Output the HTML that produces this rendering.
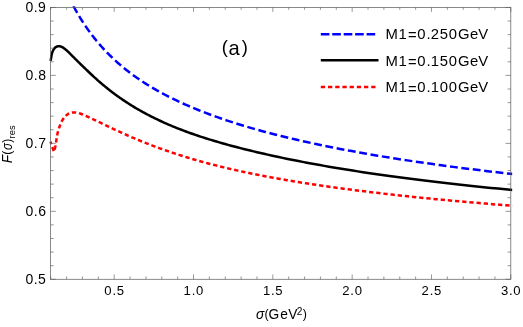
<!DOCTYPE html>
<html><head><meta charset="utf-8"><title>plot</title>
<style>html,body{margin:0;padding:0;background:#fff}svg{display:block;will-change:transform}text{white-space:pre;font-family:"Liberation Sans",sans-serif}</style></head>
<body>
<svg width="523" height="327" viewBox="0 0 523 327" >
<rect width="523" height="327" fill="#fff"/>
<defs><clipPath id="c"><rect x="49.03" y="6.24" width="463.18" height="273.03"/></clipPath></defs>
<g clip-path="url(#c)" fill="none" stroke-linejoin="round">
<path d="M72.50 4.27 L73.05 5.32 L73.61 6.38 L74.18 7.44 L74.76 8.51 L75.35 9.58 L75.96 10.65 L76.57 11.73 L77.19 12.82 L77.82 13.91 L78.46 15.00 L79.11 16.09 L79.78 17.19 L80.45 18.30 L81.14 19.40 L81.84 20.51 L82.55 21.63 L83.27 22.74 L84.01 23.86 L84.75 24.98 L85.51 26.11 L86.29 27.24 L87.07 28.37 L87.87 29.50 L88.69 30.64 L89.51 31.78 L90.35 32.92 L91.21 34.06 L92.08 35.20 L92.96 36.35 L93.86 37.50 L94.78 38.65 L95.71 39.80 L96.65 40.95 L97.61 42.10 L98.59 43.26 L99.59 44.42 L100.60 45.57 L101.63 46.73 L102.68 47.89 L103.74 49.05 L104.82 50.21 L105.92 51.37 L107.04 52.53 L108.18 53.69 L109.34 54.85 L110.52 56.01 L111.71 57.17 L112.93 58.33 L114.17 59.50 L115.43 60.65 L116.71 61.81 L118.01 62.97 L119.34 64.13 L120.69 65.29 L122.06 66.44 L123.45 67.60 L124.87 68.75 L126.31 69.91 L127.77 71.06 L129.26 72.21 L130.78 73.35 L132.32 74.50 L133.89 75.64 L135.48 76.79 L137.11 77.93 L138.75 79.06 L140.43 80.20 L142.14 81.33 L143.87 82.46 L145.64 83.59 L147.43 84.72 L149.25 85.84 L151.11 86.96 L153.00 88.08 L154.91 89.20 L156.87 90.31 L158.85 91.42 L160.87 92.53 L162.92 93.64 L165.01 94.74 L167.13 95.85 L169.29 96.95 L171.49 98.04 L173.72 99.14 L175.99 100.23 L178.30 101.32 L180.65 102.41 L183.04 103.50 L185.47 104.58 L187.94 105.67 L190.45 106.75 L193.00 107.82 L195.60 108.90 L198.24 109.97 L200.93 111.04 L203.66 112.11 L206.44 113.18 L209.27 114.24 L212.14 115.30 L215.07 116.36 L218.04 117.42 L221.06 118.47 L224.14 119.52 L227.27 120.57 L230.45 121.62 L233.68 122.66 L236.97 123.70 L240.31 124.74 L243.72 125.78 L247.18 126.82 L250.69 127.85 L254.27 128.88 L257.91 129.90 L261.61 130.93 L265.37 131.95 L269.20 132.97 L273.09 133.99 L277.05 135.00 L281.08 136.01 L285.17 137.02 L289.34 138.03 L293.57 139.03 L297.88 140.03 L302.25 141.03 L306.71 142.02 L311.24 143.02 L315.84 144.01 L320.53 144.99 L325.29 145.98 L330.14 146.96 L335.06 147.94 L340.07 148.91 L345.17 149.88 L350.35 150.85 L355.62 151.82 L360.98 152.78 L366.43 153.74 L371.98 154.70 L377.62 155.66 L383.35 156.61 L389.18 157.56 L395.11 158.50 L401.14 159.44 L407.27 160.38 L413.51 161.32 L419.85 162.25 L426.30 163.18 L432.86 164.11 L439.53 165.03 L446.32 165.95 L453.22 166.87 L460.24 167.78 L467.37 168.69 L474.63 169.60 L482.01 170.50 L489.52 171.40 L497.15 172.30 L504.91 173.19 L512.81 174.08" stroke="#0000ff" stroke-width="2.5" stroke-dasharray="7.85 3.63" stroke-dashoffset="-2"/>
<path d="M50.60 60.90 L50.77 59.88 L50.94 58.83 L51.12 57.76 L51.30 56.72 L51.48 55.72 L51.66 54.81 L51.85 54.00 L52.04 53.28 L52.23 52.63 L52.43 52.05 L52.62 51.52 L52.83 51.04 L53.03 50.59 L53.24 50.17 L53.45 49.78 L53.67 49.41 L53.89 49.08 L54.11 48.77 L54.34 48.48 L54.57 48.21 L54.80 47.96 L55.04 47.74 L55.28 47.53 L55.52 47.34 L55.77 47.17 L56.02 47.01 L56.28 46.86 L56.54 46.73 L56.81 46.61 L57.07 46.51 L57.35 46.42 L57.63 46.35 L57.91 46.28 L58.19 46.24 L58.49 46.21 L58.78 46.20 L59.08 46.20 L59.39 46.22 L59.70 46.26 L60.01 46.32 L60.34 46.39 L60.66 46.48 L60.99 46.60 L61.33 46.73 L61.67 46.88 L62.02 47.05 L62.37 47.23 L62.73 47.44 L63.09 47.66 L63.46 47.91 L63.84 48.16 L64.22 48.44 L64.61 48.73 L65.00 49.03 L65.40 49.36 L65.81 49.69 L66.22 50.04 L66.64 50.41 L67.07 50.78 L67.50 51.18 L67.94 51.58 L68.39 52.01 L68.85 52.44 L69.31 52.89 L69.78 53.35 L70.25 53.82 L70.74 54.31 L71.23 54.80 L71.73 55.31 L72.24 55.82 L72.76 56.35 L73.28 56.88 L73.81 57.42 L74.36 57.97 L74.91 58.52 L75.46 59.08 L76.03 59.65 L76.61 60.23 L77.20 60.81 L77.79 61.41 L78.40 62.01 L79.01 62.61 L79.64 63.23 L80.27 63.85 L80.92 64.48 L81.57 65.12 L82.24 65.76 L82.92 66.42 L83.60 67.08 L84.30 67.75 L85.01 68.43 L85.73 69.12 L86.46 69.82 L87.21 70.53 L87.96 71.25 L88.73 71.98 L89.51 72.72 L90.31 73.47 L91.11 74.24 L91.93 75.00 L92.76 75.78 L93.61 76.56 L94.47 77.35 L95.34 78.15 L96.22 78.95 L97.13 79.75 L98.04 80.56 L98.97 81.38 L99.91 82.20 L100.87 83.03 L101.85 83.86 L102.84 84.70 L103.85 85.54 L104.87 86.38 L105.91 87.23 L106.96 88.09 L108.04 88.94 L109.13 89.80 L110.23 90.67 L111.36 91.54 L112.50 92.41 L113.66 93.28 L114.84 94.16 L116.04 95.04 L117.26 95.92 L118.50 96.81 L119.75 97.70 L121.03 98.59 L122.33 99.48 L123.65 100.37 L124.99 101.27 L126.35 102.16 L127.73 103.06 L129.14 103.96 L130.57 104.86 L132.02 105.76 L133.49 106.66 L134.99 107.56 L136.51 108.46 L138.06 109.36 L139.63 110.26 L141.22 111.16 L142.84 112.06 L144.49 112.96 L146.16 113.86 L147.86 114.76 L149.59 115.66 L151.35 116.55 L153.13 117.45 L154.94 118.34 L156.78 119.23 L158.65 120.13 L160.56 121.01 L162.49 121.90 L164.45 122.79 L166.44 123.67 L168.47 124.55 L170.52 125.43 L172.62 126.30 L174.74 127.18 L176.90 128.05 L179.09 128.91 L181.32 129.78 L183.58 130.64 L185.88 131.50 L188.22 132.35 L190.59 133.20 L193.00 134.05 L195.45 134.89 L197.94 135.74 L200.47 136.58 L203.05 137.41 L205.66 138.25 L208.31 139.08 L211.01 139.91 L213.75 140.74 L216.53 141.57 L219.36 142.39 L222.23 143.22 L225.15 144.04 L228.11 144.86 L231.13 145.68 L234.19 146.50 L237.30 147.31 L240.46 148.13 L243.67 148.94 L246.93 149.76 L250.25 150.57 L253.61 151.38 L257.03 152.20 L260.51 153.01 L264.04 153.82 L267.63 154.63 L271.28 155.44 L274.98 156.25 L278.75 157.05 L282.57 157.86 L286.46 158.67 L290.40 159.47 L294.41 160.27 L298.49 161.07 L302.63 161.88 L306.84 162.67 L311.11 163.47 L315.45 164.27 L319.86 165.06 L324.35 165.86 L328.90 166.65 L333.53 167.44 L338.23 168.23 L343.01 169.02 L347.86 169.80 L352.79 170.58 L357.80 171.37 L362.89 172.14 L368.06 172.92 L373.32 173.69 L378.66 174.47 L384.08 175.24 L389.59 176.00 L395.19 176.77 L400.88 177.53 L406.66 178.29 L412.54 179.04 L418.50 179.80 L424.57 180.55 L430.73 181.29 L436.98 182.04 L443.34 182.78 L449.80 183.52 L456.37 184.26 L463.04 184.99 L469.81 185.72 L476.70 186.44 L483.69 187.17 L490.80 187.89 L498.02 188.60 L505.36 189.31 L512.81 190.02" stroke="#000" stroke-width="2.5"/>
<path d="M50.5 141.7 L53.90 151.70 L54.11 151.43 L54.32 150.96 L54.53 150.29 L54.75 149.44 L54.96 148.45 L55.19 147.31 L55.41 146.07 L55.64 144.73 L55.87 143.31 L56.11 141.83 L56.35 140.32 L56.59 138.79 L56.84 137.27 L57.09 135.79 L57.34 134.39 L57.60 133.09 L57.86 131.93 L58.13 130.88 L58.40 129.93 L58.67 129.05 L58.95 128.24 L59.23 127.45 L59.52 126.69 L59.81 125.93 L60.10 125.18 L60.40 124.44 L60.70 123.71 L61.01 123.00 L61.32 122.31 L61.64 121.64 L61.96 120.99 L62.29 120.38 L62.62 119.79 L62.96 119.24 L63.30 118.72 L63.64 118.22 L64.00 117.75 L64.35 117.31 L64.71 116.89 L65.08 116.49 L65.45 116.11 L65.83 115.75 L66.22 115.41 L66.61 115.08 L67.00 114.76 L67.40 114.45 L67.81 114.17 L68.22 113.90 L68.64 113.64 L69.07 113.41 L69.50 113.21 L69.94 113.02 L70.39 112.87 L70.84 112.74 L71.30 112.63 L71.76 112.54 L72.23 112.48 L72.71 112.44 L73.20 112.41 L73.69 112.40 L74.19 112.40 L74.70 112.42 L75.22 112.45 L75.74 112.50 L76.27 112.57 L76.81 112.66 L77.36 112.76 L77.91 112.88 L78.48 113.02 L79.05 113.18 L79.63 113.35 L80.22 113.55 L80.82 113.75 L81.42 113.98 L82.04 114.22 L82.67 114.47 L83.30 114.73 L83.94 115.01 L84.60 115.29 L85.26 115.59 L85.93 115.90 L86.61 116.21 L87.31 116.54 L88.01 116.87 L88.72 117.21 L89.45 117.55 L90.18 117.90 L90.93 118.25 L91.69 118.60 L92.46 118.96 L93.24 119.32 L94.03 119.69 L94.83 120.06 L95.65 120.44 L96.47 120.83 L97.31 121.23 L98.16 121.63 L99.03 122.05 L99.91 122.47 L100.80 122.89 L101.70 123.33 L102.62 123.77 L103.55 124.21 L104.49 124.67 L105.45 125.13 L106.43 125.60 L107.41 126.07 L108.41 126.55 L109.43 127.03 L110.46 127.53 L111.51 128.02 L112.57 128.53 L113.65 129.04 L114.75 129.55 L115.86 130.07 L116.99 130.60 L118.13 131.13 L119.29 131.67 L120.47 132.21 L121.67 132.75 L122.88 133.30 L124.11 133.86 L125.37 134.42 L126.63 134.99 L127.92 135.56 L129.23 136.13 L130.56 136.71 L131.90 137.29 L133.27 137.88 L134.65 138.47 L136.06 139.06 L137.49 139.66 L138.94 140.26 L140.41 140.87 L141.90 141.47 L143.42 142.09 L144.95 142.70 L146.52 143.32 L148.10 143.94 L149.71 144.56 L151.34 145.19 L152.99 145.82 L154.67 146.45 L156.38 147.08 L158.11 147.72 L159.86 148.36 L161.64 149.00 L163.45 149.64 L165.29 150.29 L167.15 150.93 L169.04 151.58 L170.96 152.23 L172.90 152.88 L174.88 153.53 L176.89 154.19 L178.92 154.84 L180.99 155.50 L183.08 156.16 L185.21 156.81 L187.37 157.47 L189.56 158.13 L191.78 158.79 L194.04 159.45 L196.33 160.11 L198.65 160.77 L201.01 161.43 L203.40 162.09 L205.83 162.76 L208.30 163.42 L210.80 164.08 L213.34 164.74 L215.92 165.39 L218.53 166.05 L221.19 166.71 L223.88 167.37 L226.61 168.02 L229.39 168.68 L232.20 169.33 L235.06 169.99 L237.96 170.64 L240.90 171.29 L243.89 171.94 L246.92 172.58 L250.00 173.23 L253.12 173.87 L256.29 174.51 L259.50 175.15 L262.76 175.79 L266.08 176.42 L269.44 177.05 L272.85 177.69 L276.31 178.32 L279.82 178.94 L283.39 179.57 L287.00 180.19 L290.68 180.81 L294.40 181.43 L298.19 182.05 L302.02 182.67 L305.92 183.28 L309.87 183.90 L313.88 184.51 L317.96 185.11 L322.09 185.72 L326.28 186.33 L330.54 186.93 L334.86 187.53 L339.24 188.13 L343.69 188.73 L348.20 189.32 L352.78 189.92 L357.43 190.51 L362.15 191.10 L366.94 191.69 L371.80 192.27 L376.73 192.86 L381.74 193.44 L386.82 194.02 L391.98 194.60 L397.21 195.18 L402.52 195.75 L407.91 196.32 L413.38 196.90 L418.93 197.46 L424.56 198.03 L430.28 198.60 L436.08 199.16 L441.97 199.72 L447.94 200.28 L454.01 200.84 L460.16 201.40 L466.41 201.95 L472.75 202.51 L479.18 203.06 L485.71 203.61 L492.34 204.15 L499.06 204.70 L505.88 205.24 L512.81 205.79" stroke="#ff0000" stroke-width="2.5" stroke-dasharray="4.3 2.9" stroke-dashoffset="1.6" stroke-linejoin="miter"/>
</g>
<path d="M50.74 279.27v-2.8M50.74 7.44v2.4M66.61 279.27v-2.8M66.61 7.44v2.4M82.47 279.27v-2.8M82.47 7.44v2.4M98.34 279.27v-2.8M98.34 7.44v2.4M114.20 279.27v-4.8M114.20 7.44v4.4M130.06 279.27v-2.8M130.06 7.44v2.4M145.93 279.27v-2.8M145.93 7.44v2.4M161.79 279.27v-2.8M161.79 7.44v2.4M177.66 279.27v-2.8M177.66 7.44v2.4M193.52 279.27v-4.8M193.52 7.44v4.4M209.38 279.27v-2.8M209.38 7.44v2.4M225.25 279.27v-2.8M225.25 7.44v2.4M241.11 279.27v-2.8M241.11 7.44v2.4M256.98 279.27v-2.8M256.98 7.44v2.4M272.84 279.27v-4.8M272.84 7.44v4.4M288.70 279.27v-2.8M288.70 7.44v2.4M304.57 279.27v-2.8M304.57 7.44v2.4M320.43 279.27v-2.8M320.43 7.44v2.4M336.30 279.27v-2.8M336.30 7.44v2.4M352.16 279.27v-4.8M352.16 7.44v4.4M368.02 279.27v-2.8M368.02 7.44v2.4M383.89 279.27v-2.8M383.89 7.44v2.4M399.75 279.27v-2.8M399.75 7.44v2.4M415.62 279.27v-2.8M415.62 7.44v2.4M431.48 279.27v-4.8M431.48 7.44v4.4M447.34 279.27v-2.8M447.34 7.44v2.4M463.21 279.27v-2.8M463.21 7.44v2.4M479.07 279.27v-2.8M479.07 7.44v2.4M494.94 279.27v-2.8M494.94 7.44v2.4M510.80 279.27v-4.8M510.80 7.44v4.4M50.53 279.27h5.3M510.81 279.27h-5.3M50.53 265.68h3.2M510.81 265.68h-3.2M50.53 252.09h3.2M510.81 252.09h-3.2M50.53 238.50h3.2M510.81 238.50h-3.2M50.53 224.90h3.2M510.81 224.90h-3.2M50.53 211.31h5.3M510.81 211.31h-5.3M50.53 197.72h3.2M510.81 197.72h-3.2M50.53 184.13h3.2M510.81 184.13h-3.2M50.53 170.54h3.2M510.81 170.54h-3.2M50.53 156.95h3.2M510.81 156.95h-3.2M50.53 143.36h5.3M510.81 143.36h-5.3M50.53 129.76h3.2M510.81 129.76h-3.2M50.53 116.17h3.2M510.81 116.17h-3.2M50.53 102.58h3.2M510.81 102.58h-3.2M50.53 88.99h3.2M510.81 88.99h-3.2M50.53 75.40h5.3M510.81 75.40h-5.3M50.53 61.81h3.2M510.81 61.81h-3.2M50.53 48.21h3.2M510.81 48.21h-3.2M50.53 34.62h3.2M510.81 34.62h-3.2M50.53 21.03h3.2M510.81 21.03h-3.2M50.53 7.44h5.3M510.81 7.44h-5.3" stroke="#6e6e6e" stroke-width="0.72" fill="none"/>
<rect x="50.53" y="7.44" width="460.28" height="271.83" fill="none" stroke="#5c5c5c" stroke-width="0.72"/>
<text x="104.36 112.38 116.71" y="294.95" font-size="13.09" fill="#000">0.5</text>
<text x="183.61 191.70 196.08" y="294.95" font-size="13.09" fill="#000">1.0</text>
<text x="262.93 271.02 275.35" y="294.95" font-size="13.09" fill="#000">1.5</text>
<text x="342.14 350.34 354.72" y="294.95" font-size="13.09" fill="#000">2.0</text>
<text x="421.46 429.66 433.99" y="294.95" font-size="13.09" fill="#000">2.5</text>
<text x="500.97 508.98 513.36" y="294.95" font-size="13.09" fill="#000">3.0</text>
<text x="25.56 33.80 38.11" y="283.92" font-size="13.99" fill="#000">0.5</text>
<text x="25.56 33.80 38.16" y="215.96" font-size="13.99" fill="#000">0.6</text>
<text x="25.56 33.80 38.13" y="148.01" font-size="13.99" fill="#000">0.7</text>
<text x="25.56 33.80 38.16" y="80.05" font-size="13.99" fill="#000">0.8</text>
<text x="25.56 33.80 38.12" y="12.09" font-size="13.99" fill="#000">0.9</text>
<path d="M320.8 34.3H376.2" stroke="#0000ff" stroke-width="2.5" stroke-dasharray="8.6 2.85" fill="none"/>
<text x="385.59 398.56 407.95 417.27 426.61 430.74 439.68 448.74 457.88 469.88 478.23" y="39.20 39.20 40.30 39.20 39.20 39.20 39.20 39.20 39.20 39.20 39.20" font-size="14.83" fill="#000">M1=0.250GeV</text>
<path d="M320.8 60.2H378.5" stroke="#000" stroke-width="2.5" fill="none"/>
<text x="385.59 398.56 407.95 417.27 426.61 430.85 439.68 448.74 457.88 469.88 478.23" y="65.60 65.60 66.70 65.60 65.60 65.60 65.60 65.60 65.60 65.60 65.60" font-size="14.83" fill="#000">M1=0.150GeV</text>
<path d="M320.8 87.0H376.2" stroke="#ff0000" stroke-width="2.5" stroke-dasharray="4.3 2.9" fill="none"/>
<text x="385.59 398.56 407.95 417.27 426.61 430.85 439.74 448.74 457.88 469.88 478.23" y="92.40 92.40 93.50 92.40 92.40 92.40 92.40 92.40 92.40 92.40 92.40" font-size="14.83" fill="#000">M1=0.100GeV</text>
<text x="221.69 228.51 241.86" y="53.43 54.70 53.43" font-size="20.14" fill="#000"><tspan font-size="18.36">(</tspan>a<tspan font-size="18.36">)</tspan></text>
<text x="255.88" y="319.20" font-size="13.77" font-style="italic" fill="#000">σ</text>
<text x="264.39 268.59 280.18 288.23" y="318.34 319.20 319.20 319.20" font-size="13.77" fill="#000"><tspan font-size="12.43">(</tspan>GeV</text>
<text x="296.67" y="314.60" font-size="10.17" fill="#000">2</text>
<text x="302.86" y="318.34" font-size="13.77" fill="#000"><tspan font-size="12.43">)</tspan></text>
<g transform="translate(12.1 162.4) rotate(-90)">
<text x="-0.75" y="0.00" font-size="13.77" font-style="italic" fill="#000">F</text>
<text x="7.63" y="-0.86" font-size="13.77" fill="#000"><tspan font-size="12.43">(</tspan></text>
<text x="12.47" y="0.00" font-size="13.77" font-style="italic" fill="#000"><tspan textLength="6.98" lengthAdjust="spacingAndGlyphs">σ</tspan></text>
<text x="19.77" y="-0.86" font-size="13.77" fill="#000"><tspan font-size="12.43">)</tspan></text>
<text x="23.88 27.21 32.52" y="3.20" font-size="9.32" fill="#000">res</text>
</g>
</svg>
</body></html>
